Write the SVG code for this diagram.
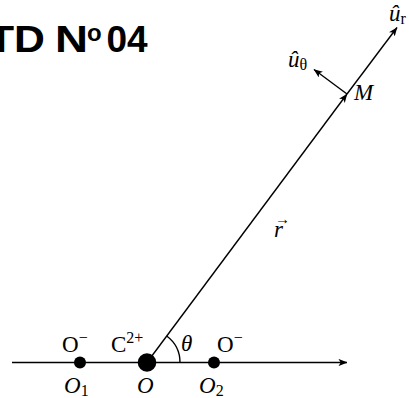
<svg xmlns="http://www.w3.org/2000/svg" width="409" height="398" viewBox="0 0 409 398">
  <style>
    .ln { stroke: #000; stroke-width: 1.4; fill: none; }
    .lbl { font-family: "Liberation Serif", "Times New Roman", serif; font-size: 23px; fill: #000; }
    .it { font-style: italic; }
    .sup { font-size: 16px; font-style: normal; }
    .title { font-family: "Liberation Sans", Arial, sans-serif; font-weight: bold; font-size: 37px; fill: #000; }
    .dot { fill: #000; }
  </style>
  <defs>
    <marker id="arr" viewBox="0 0 10 8" refX="9.5" refY="4" markerWidth="9" markerHeight="7.2" markerUnits="userSpaceOnUse" orient="auto">
      <path d="M0,0 L10,4 L0,8 L2.5,4 Z" fill="#000"/>
    </marker>
  </defs>

  <g id="title">
    <text class="title" x="-12" y="52" textLength="57" lengthAdjust="spacingAndGlyphs">TD</text>
    <text class="title" x="55" y="52" textLength="33" lengthAdjust="spacingAndGlyphs">N</text>
    <text class="title" x="87" y="41" style="font-size:24px">o</text>
    <text class="title" x="106.5" y="52">04</text>
  </g>

  <g id="connectors">
    <line id="axis" class="ln" x1="12" y1="362.5" x2="347" y2="362.5" marker-end="url(#arr)"/>
    <line id="r-vector" class="ln" x1="147" y1="362.5" x2="347" y2="94" marker-end="url(#arr)"/>
    <line id="u-r" class="ln" x1="347" y1="94" x2="397" y2="27.5" marker-end="url(#arr)"/>
    <line id="u-theta" class="ln" x1="347" y1="94" x2="314" y2="69.5" marker-end="url(#arr)"/>
    <path id="theta-arc" class="ln" d="M180 362.5 A33 33 0 0 0 166.7 336"/>
  </g>

  <g id="node-O1">
    <circle class="dot" cx="80" cy="362.5" r="6"/>
    <text class="lbl" x="62" y="352">O<tspan class="sup" dy="-9">−</tspan></text>
    <text class="lbl it" x="64" y="393">O<tspan class="sup" dy="3">1</tspan></text>
  </g>

  <g id="node-O">
    <circle class="dot" cx="147" cy="362.5" r="9.3"/>
    <text class="lbl" x="111" y="352">C<tspan class="sup" dy="-9">2+</tspan></text>
    <text class="lbl it" x="137" y="393">O</text>
    <text class="lbl it" x="181" y="351">θ</text>
  </g>

  <g id="node-O2">
    <circle class="dot" cx="214" cy="362.5" r="6"/>
    <text class="lbl" x="217" y="352">O<tspan class="sup" dy="-9">−</tspan></text>
    <text class="lbl it" x="199" y="393">O<tspan class="sup" dy="3">2</tspan></text>
  </g>

  <g id="node-M">
    <text class="lbl it" x="354" y="100">M</text>
    <text class="lbl it" x="274" y="237">r</text>
    <text class="lbl" x="275" y="224" style="font-size:15px">→</text>
    <text class="lbl it" x="389" y="21">û<tspan class="sup" dy="3" font-style="italic">r</tspan></text>
    <text class="lbl it" x="288" y="67">û<tspan class="sup" dy="3" font-style="italic">θ</tspan></text>
  </g>
</svg>
